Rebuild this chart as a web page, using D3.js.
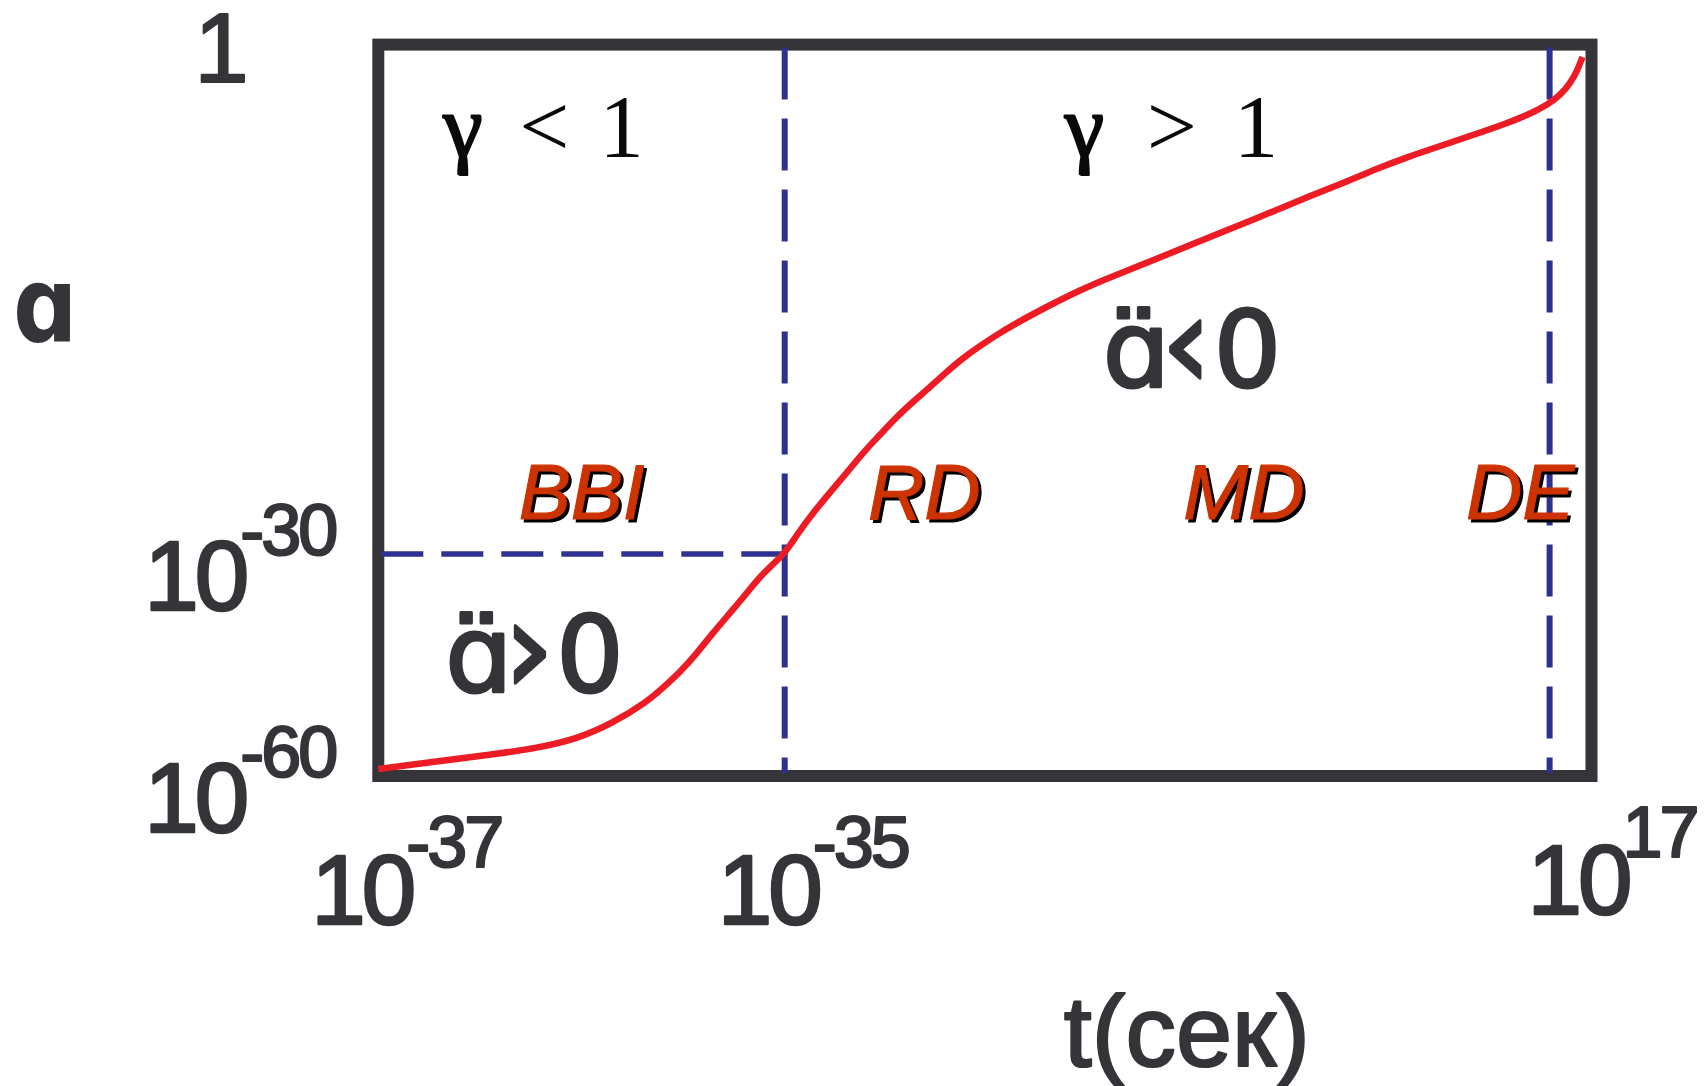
<!DOCTYPE html>
<html>
<head>
<meta charset="utf-8">
<script src="https://cdn.jsdelivr.net/npm/d3@7"></script>
<style>
  html, body { margin: 0; padding: 0; background: #ffffff; }
  svg { display: block; }
</style>
</head>
<body>
<script>
// Scale factor a(t) across the epochs of the Universe, schematic log-log plot.
// Values are decimal exponents: t = 10^logTime seconds, a = 10^logScale.
const logTime = [-37, -36.712, -36.435, -36.219, -36.022, -35.845, -35.678, -35.600, -35.516, -35.432,
  -35.354, -35.270, -35.187, -35.108, -35.0, -34.245, -33.194, -32.097, -31.019, -29.968,
  -28.871, -27.794, -26.742, -25.645, -24.568, -23.516, -22.419, -21.342, -20.290, -18.116,
  -15.968, -13.839, -11.665, -9.516, -4.355, -1.774, 1.0, 2.935, 5.129, 7.258,
  9.387, 11.58, 12.87, 14.16, 15.0, 15.645, 16.1, 16.42];
const logScale = [-59.05, -58.04, -57.09, -56.22, -55.0, -52.84, -50.0, -48.1, -46.0, -43.4,
  -40.7, -38.0, -35.3, -32.6, -30, -28.9, -27.6, -26.4, -25.23, -24.05,
  -22.99, -21.93, -21.05, -20.17, -19.28, -18.46, -17.75, -17.10, -16.51, -15.44,
  -14.45, -13.63, -12.86, -12.04, -10.15, -9.15, -8.15, -7.39, -6.62, -5.97,
  -5.32, -4.62, -4.15, -3.56, -2.97, -2.26, -1.50, -0.73];

// Axis ticks (exponents) and their labels
const xTickExp = [-37, -35, 17];
const yTickExp = [-60, -30, 0];

// End of inflation (t, a) and onset of dark-energy domination (t)
const inflationEnd = { logT: -35, logA: -30 };
const darkEnergyLogT = 14.3;

// Epochs: big-bang inflation, radiation, matter, dark energy
const phaseNames = ["BBI", "RD", "MD", "DE"];
const phaseLogT = [-36, -26, -5.4, 12.4];

const W = 1706, H = 1086;
const ink = "#353439";
const blue = "#2e3192";
const red = "#ed1c24";
const sans = "'Liberation Sans', Arial, Helvetica, sans-serif";
const round = "'DejaVu Sans', Verdana, sans-serif";
const serif = "'Liberation Serif', 'Times New Roman', serif";

const svg = d3.select("body").append("svg")
  .attr("width", W).attr("height", H)
  .attr("viewBox", `0 0 ${W} ${H}`);

// Piecewise-linear in the exponent: the axes are not to scale
const x = d3.scaleLinear().domain(xTickExp).range([378.3, 784.7, 1591.5]);
const y = d3.scaleLinear().domain(yTickExp).range([776, 554, 44.6]);

const x0 = x(xTickExp[0]), x1 = x(xTickExp[2]);
const yB = y(yTickExp[0]), yT = y(yTickExp[2]);

// Plot frame
svg.append("rect")
  .attr("x", x0).attr("y", yT)
  .attr("width", x1 - x0).attr("height", yB - yT)
  .attr("fill", "none").attr("stroke", ink).attr("stroke-width", 12);

// Dashed guide lines
const guides = svg.append("g").attr("stroke", blue).attr("fill", "none");
guides.append("line")
  .attr("x1", x0 + 3).attr("x2", x(inflationEnd.logT))
  .attr("y1", y(inflationEnd.logA)).attr("y2", y(inflationEnd.logA))
  .attr("stroke-width", 5.5).attr("stroke-dasharray", "42,18");
[inflationEnd.logT, darkEnergyLogT].forEach(v => {
  guides.append("line")
    .attr("x1", x(v)).attr("x2", x(v))
    .attr("y1", yT + 3).attr("y2", yB - 3)
    .attr("stroke-width", 6).attr("stroke-dasharray", "52,19");
});

// a(t) curve
const pts = logTime.map((t, i) => [t, logScale[i]]);
svg.append("path")
  .datum(pts)
  .attr("fill", "none").attr("stroke", red).attr("stroke-width", 6.5)
  .attr("stroke-linejoin", "round")
  .attr("d", d3.line().x(d => x(d[0])).y(d => y(d[1])).curve(d3.curveBasis));

// Heavier glyphs: outline the fill in its own colour
function heavy(sel, color, w) {
  return sel.attr("fill", color).attr("stroke", color).attr("stroke-width", w)
    .attr("stroke-linejoin", "round");
}

// Power-of-ten label: base "10" plus a raised exponent
function powerLabel(g, bx, by, sx, sy, exp) {
  heavy(g.append("text").attr("x", bx).attr("y", by)
    .attr("font-family", sans).attr("font-size", 98).attr("letter-spacing", -4), ink, 2.6)
    .text("10");
  heavy(g.append("text").attr("x", sx).attr("y", sy)
    .attr("font-family", sans).attr("font-size", 72).attr("letter-spacing", -3), ink, 2.2)
    .text(exp < 0 ? "-" + Math.abs(exp) : String(exp));
}

// x-axis tick labels
const xl = svg.append("g");
xTickExp.forEach((v, i) => {
  const last = i === xTickExp.length - 1;
  const lift = last ? 10 : 0, shift = last ? 3 : 0;
  powerLabel(xl, x(v) - 67 + shift, yB + 148 - lift, x(v) + 28 + shift, yB + 91 - lift, v);
});

// y-axis tick labels
const yl = svg.append("g");
yTickExp.forEach(v => {
  if (v === 0) {
    heavy(yl.append("text").attr("x", x0 - 184).attr("y", y(v) + 37)
      .attr("font-family", sans).attr("font-size", 98), ink, 2).text("1");
  } else {
    powerLabel(yl, x0 - 234, y(v) + 56, x0 - 138, y(v) + 1, v);
  }
});

// Axis titles
svg.append("text")
  .attr("transform", `translate(13,342) scale(0.85,1)`)
  .attr("font-family", round).attr("font-weight", "bold").attr("font-size", 106)
  .attr("fill", ink).text("ɑ");
heavy(svg.append("text")
  .attr("x", x(inflationEnd.logT) + 279).attr("y", 1066)
  .attr("font-family", sans).attr("font-size", 101), ink, 2.2).text("t(сек)");

// Equation-of-state regimes
function gammaLabel(gx, rel) {
  const t = svg.append("text").attr("y", y(0) + 111)
    .attr("font-family", serif).attr("font-size", 89).attr("fill", "#0a0a0a");
  heavy(t.append("tspan").attr("x", gx), "#0a0a0a", 2.2).text("γ");
  t.append("tspan").attr("x", gx + 76 + (rel === ">" ? 6 : 0)).text(rel);
  t.append("tspan").attr("x", gx + 156 + (rel === ">" ? 13 : 0)).text("1");
}
gammaLabel(x0 + 65, "<");
gammaLabel(x(inflationEnd.logT) + 280, ">");

// Sign of the acceleration
function accelLabel(ax, ay, rel) {
  const t = heavy(svg.append("text").attr("y", ay).attr("font-family", round), ink, 3);
  t.append("tspan").attr("x", ax).attr("font-size", 106).text("ɑ\u0308");
  t.append("tspan").attr("x", ax + 58).attr("font-size", 128).text(rel);
  t.append("tspan").attr("x", ax + 111).attr("font-size", 106).text("0");
}
accelLabel(x0 + 67, y(inflationEnd.logA) + 138, "›");
accelLabel(x(inflationEnd.logT) + 318, y(inflationEnd.logA) - 167, "‹");

// Epoch names with a drop shadow
const ph = svg.append("g").attr("font-family", sans).attr("font-style", "italic")
  .attr("font-size", 78).attr("text-anchor", "middle");
phaseNames.forEach((name, i) => {
  const px = x(phaseLogT[i]), py = y(inflationEnd.logA) - 35;
  heavy(ph.append("text").attr("x", px + 3).attr("y", py + 3), "#000", 1.2).text(name);
  heavy(ph.append("text").attr("x", px).attr("y", py), "#cc3300", 1.2).text(name);
});
</script>
</body>
</html>
